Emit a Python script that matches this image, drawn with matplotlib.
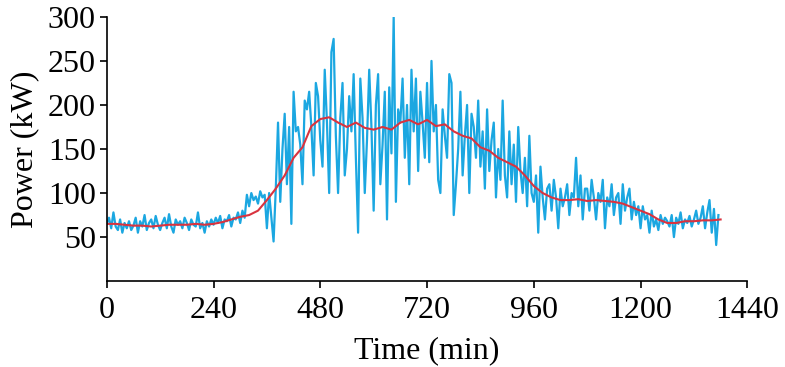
import matplotlib
matplotlib.use('AGG')
import matplotlib.pyplot as plt
import numpy as np

# measured power, one reading every 5 min
power = [
    65, 72, 60, 78, 62, 58, 70, 55, 66, 60, 68, 58,
    63, 72, 55, 68, 62, 75, 58, 66, 70, 60, 74, 64,
    58, 66, 72, 60, 76, 62, 55, 70, 64, 68, 60, 72,
    66, 58, 70, 64, 62, 78, 60, 66, 55, 68, 62, 70,
    64, 72, 66, 74, 60, 70, 68, 75, 62, 72, 70, 78,
    66, 80, 72, 98, 85, 100, 92, 96, 88, 102, 95, 98,
    60, 100, 72, 45, 105, 180, 90, 150, 190, 110, 175, 65,
    215, 170, 175, 155, 110, 205, 195, 215, 175, 120, 225, 210,
    160, 130, 240, 180, 100, 260, 275, 165, 100, 185, 225, 120,
    150, 210, 170, 235, 140, 55, 230, 185, 100, 160, 240, 175,
    80, 200, 235, 110, 155, 215, 70, 220, 145, 300, 90, 195,
    180, 230, 140, 200, 110, 240, 170, 230, 125, 215, 180, 140,
    225, 135, 250, 170, 200, 115, 100, 195, 165, 140, 235, 225,
    75, 110, 150, 215, 120, 165, 200, 100, 190, 175, 140, 205,
    130, 170, 105, 195, 125, 160, 180, 95, 150, 115, 205, 120,
    95, 170, 110, 155, 90, 175, 125, 100, 140, 85, 165, 100,
    90, 120, 55, 130, 95, 70, 105, 110, 80, 115, 95, 60,
    105, 85, 95, 110, 75, 100, 95, 140, 85, 120, 70, 105,
    105, 80, 115, 95, 70, 100, 90, 115, 60, 95, 85, 110,
    75, 95, 100, 65, 110, 80, 95, 105, 70, 90, 75, 85,
    60, 85, 70, 75, 55, 80, 62, 70, 58, 75, 65, 72,
    68, 62, 75, 50, 72, 65, 78, 60, 70, 66, 74, 62,
    70, 80, 65, 72, 85, 60, 78, 92, 55, 82, 41, 75,
]
power_time = np.arange(len(power)) * 5

# smoothed power, every 20 min
smooth = [
    65, 65, 64, 63, 63, 62, 63, 64, 64, 64, 65, 64,
    65, 67, 70, 73, 75, 80, 92, 105, 120, 140, 152, 176,
    184, 186, 180, 175, 180, 174, 172, 175, 172, 180, 183, 178,
    183, 176, 178, 170, 165, 162, 152, 148, 140, 135, 130, 120,
    108, 100, 95, 92, 92, 93, 91, 92, 91, 90, 88, 84,
    80, 76, 70, 66, 66, 68, 68, 69, 69, 70,
]
smooth_time = np.arange(len(smooth)) * 20

xticks = [0, 240, 480, 720, 960, 1200, 1440]
yticks = [50, 100, 150, 200, 250, 300]

plt.rcParams['font.family'] = ['Liberation Serif', 'DejaVu Serif']
plt.rcParams['font.size'] = 23

fig = plt.figure(figsize=(7.85, 3.67), dpi=100)
ax = fig.add_axes([0.136, 0.234, 0.816, 0.72])

ax.plot(power_time, power, color='#1ba7e1', lw=1.6)
ax.plot(smooth_time, smooth, color='#d9333f', lw=1.5)

ax.set_xlim(0, 1440)
ax.set_ylim(0, 300)
ax.set_xticks(xticks)
ax.set_yticks(yticks)
ax.set_xlabel('Time (min)', labelpad=8)
ax.set_ylabel('Power (kW)', labelpad=6)
ax.spines['top'].set_visible(False)
ax.spines['right'].set_visible(False)
for s in ['left', 'bottom']:
    ax.spines[s].set_linewidth(1.2)
ax.tick_params(direction='out', length=5, width=1.2)
ax.tick_params(axis='x', pad=6)
ax.tick_params(axis='y', pad=3)

fig.savefig('out.png', dpi=100)
